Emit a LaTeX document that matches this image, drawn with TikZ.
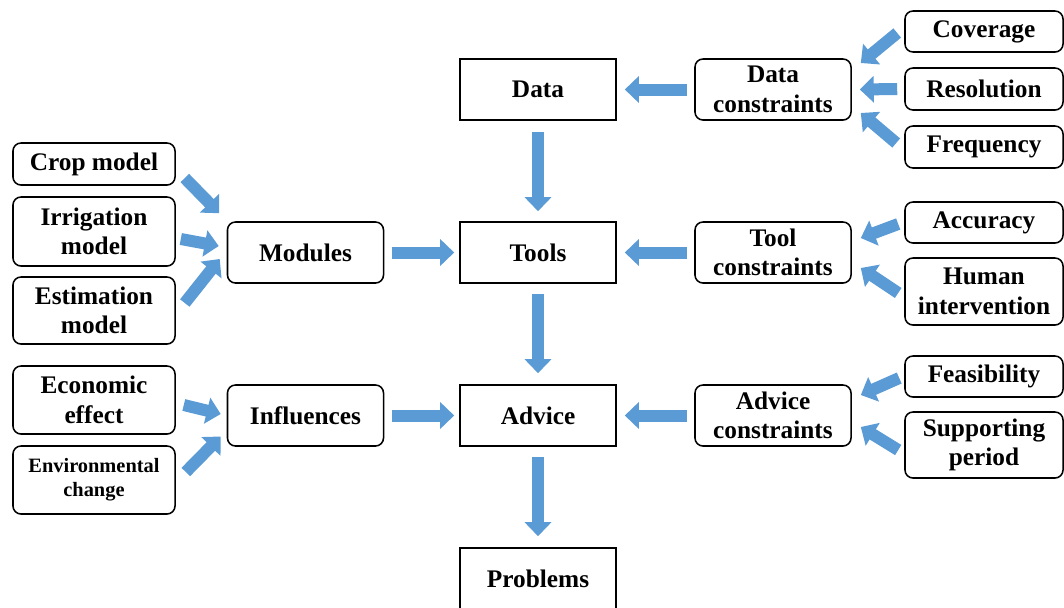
\documentclass[tikz,border=0pt]{standalone}
\usepackage{fontspec}
\setmainfont{Liberation Serif}
\usetikzlibrary{arrows.meta}
\definecolor{flowblue}{HTML}{5B9BD5}

\begin{document}
\begin{tikzpicture}[x=0.025cm,y=0.025cm,
        box/.style={draw,line width=1.1pt,minimum width=3.9cm,minimum height=1.525cm,
            align=center,inner sep=2pt,font=\fontsize{18}{21}\selectfont\bfseries},
        rbox/.style={box,rounded corners=0.2cm},
        lbox/.style={rbox,minimum width=4.05cm},
        sbox/.style={rbox,minimum width=3.95cm},
        flow/.style={draw=flowblue,line width=0.3cm,-{Triangle[length=0.35cm,width=0.65cm]}}]
        \useasboundingbox (0,0) rectangle (1064,-607);

        \node[box] (data) at (538,-89.5) {Data};
        \node[box] (tools) at (538,-252.5) {Tools};
        \node[box] (advice) at (538,-415.5) {Advice};
        \node[box] (problems) at (538,-578.5) {Problems};

        \node[rbox] (modules) at (305.5,-252.5) {Modules};
        \node[rbox] (influences) at (305.5,-415.5) {Influences};
        \node[rbox] (datacon) at (773,-89.5) {Data\\constraints};
        \node[rbox] (toolcon) at (773,-252.5) {Tool\\constraints};
        \node[rbox] (advcon) at (773,-415.5) {Advice\\constraints};

        \node[lbox,minimum height=1.05cm] (crop) at (94,-164) {Crop model};
        \node[lbox,minimum height=1.725cm] (irrig) at (94,-231.5) {Irrigation\\model};
        \node[lbox,minimum height=1.675cm] (estim) at (94,-310.5) {Estimation\\model};
        \node[lbox,minimum height=1.7cm] (econ) at (94,-400) {Economic\\effect};
        \node[lbox,minimum height=1.7cm,font=\fontsize{14.5}{17}\selectfont\bfseries] (envir) at (94,-480) {Environmental\\change};

        \node[sbox,minimum height=1.025cm] (cover) at (984,-31.5) {Coverage};
        \node[sbox,minimum height=1.05cm] (resol) at (984,-89) {Resolution};
        \node[sbox,minimum height=1.05cm] (freq) at (984,-147) {Frequency};
        \node[sbox,minimum height=1.025cm] (accur) at (984,-222.5) {Accuracy};
        \node[sbox,minimum height=1.675cm] (human) at (984,-291.5) {Human\\intervention};
        \node[sbox,minimum height=1.025cm] (feas) at (984,-376.5) {Feasibility};
        \node[sbox,minimum height=1.65cm] (supp) at (984,-445) {Supporting\\period};

        \draw[flow,shorten <=0.275cm,shorten >=0.25cm] (data) -- (tools);
        \draw[flow,shorten <=0.25cm,shorten >=0.275cm] (tools) -- (advice);
        \draw[flow,shorten <=0.25cm,shorten >=0.275cm] (advice) -- (problems);
        \draw[flow,shorten <=0.2cm,shorten >=0.125cm] (modules) -- (tools);
        \draw[flow,shorten <=0.2cm,shorten >=0.125cm] (influences) -- (advice);
        \draw[flow,shorten <=0.175cm,shorten >=0.2cm] (datacon) -- (data);
        \draw[flow,shorten <=0.175cm,shorten >=0.2cm] (toolcon) -- (tools);
        \draw[flow,shorten <=0.175cm,shorten >=0.2cm] (advcon) -- (advice);

        \draw[flow] ([shift={(9,-14)}]crop.east) -- ([shift={(-7.5,8)}]modules.north west);
        \draw[flow] ([shift={(5,-7.5)}]irrig.east) -- ([shift={(-8,6.5)}]modules.west);
        \draw[flow] ([shift={(9,7.5)}]estim.east) -- ([shift={(-7,-6.5)}]modules.west);
        \draw[flow] ([shift={(8,-5)}]econ.east) -- ([shift={(-6,1.5)}]influences.west);
        \draw[flow] ([shift={(10,8)}]envir.east) -- ([shift={(-6,-21)}]influences.west);

        \draw[flow] ([shift={(-7,-1.5)}]cover.west) -- ([shift={(9,26.5)}]datacon.east);
        \draw[flow] ([shift={(-7,0)}]resol.west) -- ([shift={(8,0)}]datacon.east);
        \draw[flow] ([shift={(-8,4)}]freq.west) -- ([shift={(9,-23.5)}]datacon.east);
        \draw[flow] ([shift={(-6,-1.5)}]accur.west) -- ([shift={(9,14.5)}]toolcon.east);
        \draw[flow] ([shift={(-6,-1.5)}]human.west) -- ([shift={(9,-15.5)}]toolcon.east);
        \draw[flow] ([shift={(-5,-1.5)}]feas.west) -- ([shift={(9,20.5)}]advcon.east);
        \draw[flow] ([shift={(-6,-5)}]supp.west) -- ([shift={(9,-11.5)}]advcon.east);
\end{tikzpicture}
\end{document}
